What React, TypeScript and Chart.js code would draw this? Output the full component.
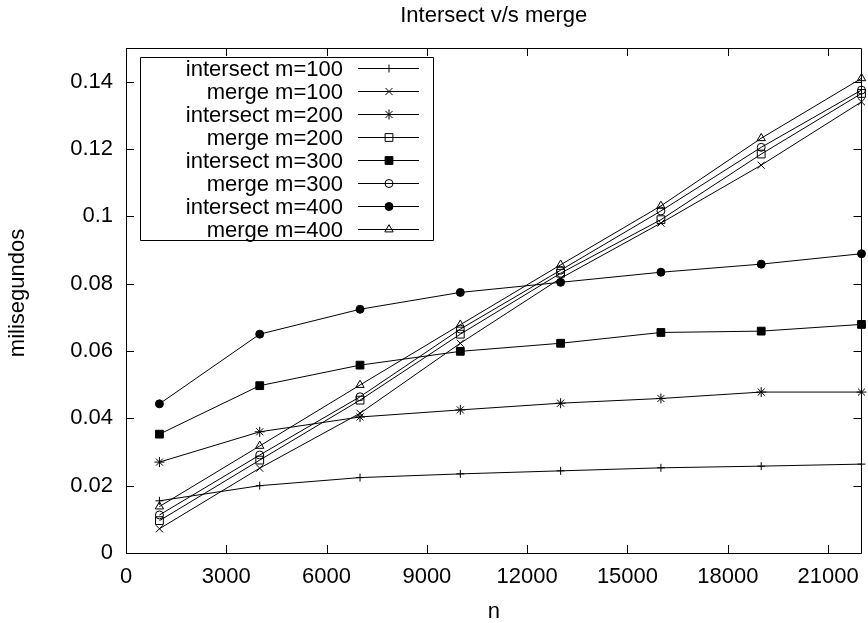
import React, { useEffect, useRef } from "react";
import { Chart, registerables } from "chart.js";
import { drawPoint } from "chart.js/helpers";

Chart.register(...registerables);

const nValues = [1000, 4000, 7000, 10000, 13000, 16000, 19000, 22000];
const xTickValues = [0, 3000, 6000, 9000, 12000, 15000, 18000, 21000];
const yTickValues = [0, 0.02, 0.04, 0.06, 0.08, 0.1, 0.12, 0.14];

const intersect100 = [0.0155, 0.02, 0.0224, 0.0235, 0.0244, 0.0253, 0.0258, 0.0264];
const merge100 = [0.0072, 0.0252, 0.0415, 0.0623, 0.0816, 0.098, 0.1152, 0.134];
const intersect200 = [0.027, 0.036, 0.0404, 0.0425, 0.0445, 0.0459, 0.0478, 0.0478];
const merge200 = [0.0096, 0.0276, 0.0454, 0.065, 0.0831, 0.099, 0.1185, 0.1365];
const intersect300 = [0.0353, 0.0497, 0.0558, 0.0599, 0.0623, 0.0655, 0.0659, 0.0679];
const merge300 = [0.0113, 0.0291, 0.0464, 0.0665, 0.084, 0.1016, 0.1205, 0.1375];
const intersect400 = [0.0443, 0.065, 0.0724, 0.0774, 0.0804, 0.0834, 0.0858, 0.0889];
const merge400 = [0.0138, 0.0318, 0.0499, 0.0678, 0.0856, 0.1031, 0.1232, 0.141];

const seriesLabels = [
  "intersect m=100",
  "merge m=100",
  "intersect m=200",
  "merge m=200",
  "intersect m=300",
  "merge m=300",
  "intersect m=400",
  "merge m=400",
];
const seriesValues = [
  intersect100,
  merge100,
  intersect200,
  merge200,
  intersect300,
  merge300,
  intersect400,
  merge400,
];
const markerStyles = ["cross", "crossRot", "star", "rect", "rect", "circle", "circle", "triangle"];
const markerRadius = [4, 5, 5, 5.5, 5.5, 4, 4, 4.8];
const markerFilled = [false, false, false, false, true, false, true, false];

const FONT = '22px "Liberation Sans", Arial, sans-serif';

const gnuplotPlugin = {
  id: "gnuplotDecor",
  afterDraw(chart: any) {
    const { ctx, chartArea: a, scales } = chart;
    const xs = scales.x;
    const ys = scales.y;
    ctx.save();
    ctx.strokeStyle = "#000";
    ctx.fillStyle = "#000";
    ctx.lineWidth = 1;
    // frame
    ctx.beginPath();
    ctx.rect(Math.round(a.left) + 0.5, Math.round(a.top) + 0.5, Math.round(a.right - a.left) - 1, Math.round(a.bottom - a.top));
    ctx.stroke();
    // inward tick marks
    const tl = 8;
    ctx.beginPath();
    xTickValues.forEach((v) => {
      const px = Math.round(xs.getPixelForValue(v)) + 0.5;
      ctx.moveTo(px, a.bottom);
      ctx.lineTo(px, a.bottom - tl);
      ctx.moveTo(px, a.top);
      ctx.lineTo(px, a.top + tl);
    });
    yTickValues.forEach((v) => {
      const py = Math.round(ys.getPixelForValue(v)) + 0.5;
      ctx.moveTo(a.left, py);
      ctx.lineTo(a.left + tl, py);
      ctx.moveTo(a.right, py);
      ctx.lineTo(a.right - tl, py);
    });
    ctx.stroke();

    // titles
    ctx.font = FONT;
    ctx.textAlign = "center";
    ctx.textBaseline = "alphabetic";
    ctx.fillText("Intersect v/s merge", (a.left + a.right) / 2, 22);
    ctx.fillText("n", (a.left + a.right) / 2, 618);
    ctx.save();
    ctx.translate(24, 293);
    ctx.rotate(-Math.PI / 2);
    ctx.fillText("milisegundos", 0, 0);
    ctx.restore();

    // legend
    ctx.beginPath();
    ctx.rect(140.5, 57.5, 293, 183);
    ctx.stroke();
    seriesLabels.forEach((label, i) => {
      const cy = 68.5 + 23 * i;
      ctx.fillStyle = "#000";
      ctx.textAlign = "right";
      ctx.fillText(label, 343, cy + 7);
      ctx.beginPath();
      ctx.moveTo(358, cy);
      ctx.lineTo(419, cy);
      ctx.stroke();
      ctx.fillStyle = markerFilled[i] ? "#000" : "rgba(0,0,0,0)";
      drawPoint(
        ctx,
        { pointStyle: markerStyles[i], radius: markerRadius[i], rotation: 0, borderWidth: 1 } as any,
        389,
        cy
      );
    });
    ctx.restore();
  },
};

export default function App() {
  const ref = useRef<HTMLCanvasElement | null>(null);
  useEffect(() => {
    if (!ref.current) return;
    const datasets = seriesLabels.map((label, i) => ({
      label,
      data: nValues.map((n, j) => ({ x: n, y: seriesValues[i][j] })),
      borderColor: "#000",
      borderWidth: 1,
      backgroundColor: markerFilled[i] ? "#000" : "rgba(0,0,0,0)",
      pointStyle: markerStyles[i] as any,
      pointRadius: markerRadius[i],
      pointBorderColor: "#000",
      pointBackgroundColor: markerFilled[i] ? "#000" : "rgba(0,0,0,0)",
      pointBorderWidth: 1,
      tension: 0,
      fill: false,
      clip: 8,
    }));
    const chart = new Chart(ref.current, {
      type: "line",
      data: { datasets },
      options: {
        animation: false,
        responsive: false,
        maintainAspectRatio: false,
        layout: { padding: { top: 48, right: 2, left: 0, bottom: 0 } },
        plugins: {
          legend: { display: false },
          title: { display: false },
          tooltip: { enabled: false },
        },
        scales: {
          x: {
            type: "linear",
            min: 0,
            max: 22000,
            grid: { display: false, drawTicks: false },
            border: { display: false },
            afterBuildTicks: (scale: any) => {
              scale.ticks = xTickValues.map((v) => ({ value: v }));
            },
            afterFit: (scale: any) => {
              scale.height = 70;
              scale.paddingLeft = 0;
              scale.paddingRight = 0;
            },
            ticks: {
              autoSkip: false,
              maxRotation: 0,
              minRotation: 0,
              padding: 11,
              color: "#000",
              font: { family: '"Liberation Sans", Arial, sans-serif', size: 22 },
              callback: (v: any) => String(v),
            },
          },
          y: {
            type: "linear",
            min: 0,
            max: 0.15,
            grid: { display: false, drawTicks: false },
            border: { display: false },
            afterBuildTicks: (scale: any) => {
              scale.ticks = yTickValues.map((v) => ({ value: v }));
            },
            afterFit: (scale: any) => {
              scale.width = 126;
              scale.paddingTop = 0;
              scale.paddingBottom = 0;
            },
            ticks: {
              autoSkip: false,
              padding: 13,
              color: "#000",
              font: { family: '"Liberation Sans", Arial, sans-serif', size: 22 },
              callback: (v: any) => String(Number(Number(v).toFixed(2))),
            },
          },
        },
      },
      plugins: [gnuplotPlugin],
    });
    return () => chart.destroy();
  }, []);
  return (
    <div style={{ position: "fixed", left: 0, top: 0, width: 868, height: 623, background: "#fff" }}>
      <canvas ref={ref} width={868} height={623} style={{ display: "block" }} />
    </div>
  );
}
